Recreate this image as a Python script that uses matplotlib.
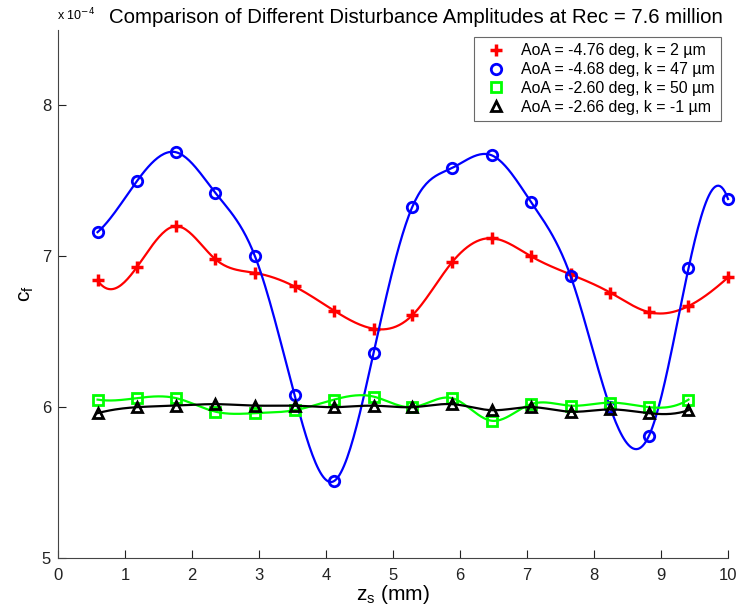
import numpy as np
import matplotlib
matplotlib.use("Agg")
import matplotlib.pyplot as plt
from matplotlib.lines import Line2D

plt.rcParams['font.family'] = ['Liberation Sans', 'DejaVu Sans']

# positions along span (mm) and cf values (x 1e-4)
z = [0.59, 1.18, 1.76, 2.35, 2.94, 3.53, 4.12, 4.71, 5.29, 5.88, 6.47, 7.06,
     7.65, 8.24, 8.82, 9.41, 10.0]
cf_red = [6.84, 6.93, 7.20, 6.98, 6.89, 6.80, 6.64, 6.52, 6.61, 6.96, 7.12,
          7.00, 6.88, 6.76, 6.63, 6.67, 6.86]
cf_blue = [7.16, 7.50, 7.69, 7.42, 7.00, 6.08, 5.51, 6.36, 7.33, 7.585, 7.67,
           7.36, 6.87, 6.00, 5.81, 6.92, 7.38]
cf_green = [6.05, 6.06, 6.06, 5.97, 5.96, 5.98, 6.05, 6.07, 6.00, 6.06, 5.91,
            6.02, 6.01, 6.03, 6.00, 6.05]
cf_black = [5.96, 6.00, 6.01, 6.02, 6.01, 6.01, 6.00, 6.01, 6.00, 6.02, 5.98,
            6.00, 5.97, 5.985, 5.96, 5.98]

labels = ["AoA = -4.76 deg, k = 2 \u00b5m",
          "AoA = -4.68 deg, k = 47 \u00b5m",
          "AoA = -2.60 deg, k = 50 \u00b5m",
          "AoA = -2.66 deg, k = -1 \u00b5m"]


def spline(x, y, n=400):
    # not-a-knot cubic spline, like matlab's spline()
    x = np.asarray(x, float)
    y = np.asarray(y, float)
    m = len(x) - 1
    h = np.diff(x)
    A = np.zeros((4 * m, 4 * m))
    r = np.zeros(4 * m)
    row = 0
    for i in range(m):
        A[row, 4 * i] = 1
        r[row] = y[i]
        row += 1
        A[row, 4 * i:4 * i + 4] = [1, h[i], h[i] ** 2, h[i] ** 3]
        r[row] = y[i + 1]
        row += 1
    for i in range(m - 1):
        A[row, 4 * i + 1:4 * i + 4] = [1, 2 * h[i], 3 * h[i] ** 2]
        A[row, 4 * (i + 1) + 1] = -1
        row += 1
        A[row, 4 * i + 2:4 * i + 4] = [2, 6 * h[i]]
        A[row, 4 * (i + 1) + 2] = -2
        row += 1
    A[row, 3] = 1
    A[row, 7] = -1
    row += 1
    A[row, 4 * (m - 2) + 3] = 1
    A[row, 4 * (m - 1) + 3] = -1
    c = np.linalg.solve(A, r).reshape(m, 4)
    xs = np.linspace(x[0], x[-1], n)
    idx = np.clip(np.searchsorted(x, xs) - 1, 0, m - 1)
    t = xs - x[idx]
    ys = c[idx, 0] + c[idx, 1] * t + c[idx, 2] * t ** 2 + c[idx, 3] * t ** 3
    return xs, ys


fig = plt.figure(figsize=(7.4, 6.13), dpi=100)
ax = fig.add_axes([0.0784, 0.0897, 0.9054, 0.8613])

series = [
    (cf_red, '#ff0000', '+', dict(markersize=9, markeredgewidth=2.5)),
    (cf_blue, '#0000ff', 'o', dict(markersize=7.5, markeredgewidth=2, markerfacecolor='none')),
    (cf_green, '#00ff00', 's', dict(markersize=6.5, markeredgewidth=2, markerfacecolor='none')),
    (cf_black, '#000000', '^', dict(markersize=7, markeredgewidth=2, markerfacecolor='none')),
]

handles = []
for vals, col, mk, mkw in series:
    zz = z[:len(vals)]
    xs, ys = spline(zz, vals)
    ax.plot(xs, ys, color=col, lw=1.6, clip_on=False)
    ax.plot(zz, vals, linestyle='none', marker=mk, color=col, clip_on=False, **mkw)
    handles.append(Line2D([], [], linestyle='none', marker=mk, color=col, **mkw))

ax.set_xlim(0, 10)
ax.set_ylim(5, 8.5)
ax.set_xticks(range(0, 11))
ax.set_yticks([5, 6, 7, 8])
ax.spines['top'].set_visible(False)
ax.spines['right'].set_visible(False)
for s in ['left', 'bottom']:
    ax.spines[s].set_color('#444444')
ax.tick_params(direction='in', length=6, labelsize=12, colors='#222222', pad=5)
ax.tick_params(axis='x', pad=7)

ax.set_xlabel("z$_\\mathregular{s}$ (mm)", fontsize=15, labelpad=0)
ax.set_ylabel("c$_\\mathregular{f}$", fontsize=15, labelpad=4)

leg = ax.legend(handles, labels, loc='upper right',
                bbox_to_anchor=(721 / 740, 1 - 37 / 613), bbox_transform=fig.transFigure,
                borderaxespad=0, fontsize=11.4, frameon=True, fancybox=False,
                handlelength=2.0, handletextpad=0.55, borderpad=0.4, labelspacing=0.24)
leg.get_frame().set_edgecolor('#444444')
leg.get_frame().set_linewidth(0.8)

fig.text(0.077, 0.975, "x 10$^{-4}$", fontsize=9, ha='left', va='center')
fig.text(0.562, 0.972, "Comparison of Different Disturbance Amplitudes at Rec = 7.6 million",
         fontsize=14.7, ha='center', va='center')

fig.savefig("out.png", dpi=100)
